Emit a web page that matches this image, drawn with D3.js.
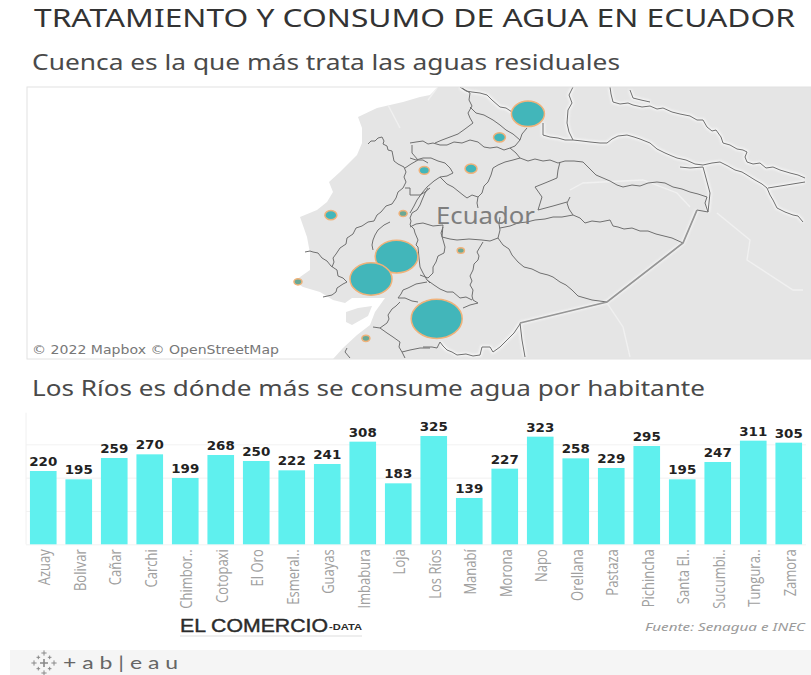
<!DOCTYPE html>
<html lang="es">
<head>
<meta charset="utf-8">
<title>Tratamiento y consumo de agua en Ecuador</title>
<script src="https://cdn.jsdelivr.net/npm/d3@7"></script>
<style>
  html, body { margin: 0; padding: 0; background: #fff; }
  svg { display: block; font-family: "Noto Sans", sans-serif; }
</style>
</head>
<body>
<svg id="chart" width="811" height="675"></svg>
<script>
// --- Data: consumption per inhabitant ---
const provinces = ["Azuay", "Bolivar", "Cañar", "Carchi", "Chimbor..", "Cotopaxi", "El Oro", "Esmeral..", "Guayas", "Imbabura", "Loja", "Los Ríos", "Manabí", "Morona", "Napo", "Orellana", "Pastaza", "Pichincha", "Santa El..", "Sucumbi..", "Tungura..", "Zamora"];
const consumption = [220, 195, 259, 270, 199, 268, 250, 222, 241, 308, 183, 325, 139, 227, 323, 258, 229, 295, 195, 247, 311, 305];
const gridTicks = [0, 100, 200, 300];

// --- Data: treated water by city (sizes, relative) ---
const cities = ["Tulcán", "Ibarra", "Quito", "Santo Domingo", "Manta", "Quevedo", "Babahoyo", "Guayaquil", "Salinas", "Riobamba", "Cuenca", "Machala"];
const cityLon = [-77.75, -78.14, -78.53, -79.17, -80.45, -79.46, -79.55, -79.9, -80.9, -78.67, -79.0, -79.97];
const cityLat = [0.76, 0.34, -0.22, -0.25, -1.05, -1.02, -1.79, -2.19, -2.24, -1.68, -2.90, -3.25];
const citySize = [42, 5.5, 5.5, 4, 5.5, 2.5, 70, 68, 2.5, 2, 100, 2.5];

const landOutline = [[438,87],[430,95],[420,97],[403,102],[377,108],[358,117],[362,128],[362,143],[357,155],[340,172],[329,182],[333,192],[327,202],[317,210],[300,217],[307,237],[310,253],[310,270],[300,277],[295,282],[303,287],[320,292],[333,300],[345,303],[352,298],[385,298],[375,312],[370,325],[357,335],[343,348],[333,359],[811,359],[811,87]];
const islandOutline = [[346,312],[358,308],[372,306],[368,316],[352,325],[346,322]];
const provinceLines = [
  [[368,144],[371,141],[375,141],[378,138],[382,137],[384,141],[383,144],[387,146],[388,150],[392,151],[393,156],[394,161],[398,164],[404,167],[406,172],[404,177],[406,182],[403,188],[398,192],[396,198],[392,204],[386,206],[381,212],[377,215],[374,221],[368,222],[362,226],[356,228],[353,234],[347,238],[346,244],[340,248],[336,254],[333,258],[334,262],[332,267]],
  [[305,252],[310,251],[313,252],[318,253],[322,258],[327,261],[331,266],[337,270],[338,276],[343,278],[347,282],[343,284],[337,288],[336,292],[332,295],[323,297]],
  [[405,188],[410,188],[410,195],[420,195],[425,192],[430,188]],
  [[390,222],[384,225],[378,230],[375,235],[373,240],[372,245],[373,250]],
  [[428,188],[425,193],[422,200],[420,205],[417,210],[412,213],[410,218],[411,221],[410,225],[414,229],[415,233],[418,240],[416,245],[418,247],[419,258],[420,267],[423,273],[427,280],[430,283]],
  [[410,143],[416,142],[423,141],[428,144],[433,143],[440,145],[447,145],[454,142],[462,143],[470,140],[478,142],[484,147],[490,148],[497,147],[504,150],[510,148],[515,146],[520,140],[522,134],[527,128]],
  [[412,145],[412,153],[418,160],[423,160],[428,163]],
  [[405,168],[411,164],[418,160]],
  [[470,107],[476,113],[484,115],[493,120],[500,125],[506,130],[513,134],[520,140]],
  [[435,143],[442,140],[450,137],[458,134],[465,129],[473,123],[470,118],[468,113],[472,106],[469,100],[470,93],[462,88]],
  [[510,148],[516,153],[520,158],[513,160],[505,162],[498,165],[493,168],[491,175],[488,182],[484,186],[482,193],[478,197],[472,195],[467,198],[463,195],[458,191],[453,187],[447,184],[440,177],[447,176],[453,173],[450,168],[445,163],[438,161],[431,158],[423,158],[416,160],[410,158]],
  [[440,177],[434,181],[427,187],[422,193],[417,200],[414,206],[410,213]],
  [[478,197],[477,203],[478,208]],
  [[410,227],[416,224],[423,223],[433,226],[443,225],[442,237],[450,239],[457,240],[469,239],[482,240],[490,241],[498,238],[500,230],[499,224],[500,217]],
  [[443,227],[441,233],[443,240],[445,247],[444,253],[438,256],[436,262],[433,267],[433,273],[428,278],[420,275]],
  [[483,242],[480,247],[477,252],[479,256],[478,260],[474,264],[473,270],[470,276],[472,281],[470,285],[473,290],[472,296],[473,300],[478,303],[470,305],[463,308]],
  [[427,280],[434,285],[440,289],[447,292],[453,292],[460,298],[466,297],[472,300]],
  [[427,282],[416,284],[408,288],[403,290],[401,294],[398,298],[405,298],[412,301],[418,302]],
  [[400,302],[396,306],[392,309],[388,315],[389,319],[387,323],[380,328],[373,327]],
  [[380,328],[387,333],[393,337],[400,342],[399,347],[402,352],[410,350],[420,348],[430,348]],
  [[402,352],[405,358]],
  [[347,348],[345,352],[350,358]],
  [[440,342],[437,348],[432,347],[423,347]],
  [[498,238],[503,245],[509,249],[512,255],[518,262],[524,267],[532,269],[540,273],[548,275],[553,277],[560,282],[566,285],[572,290],[578,296],[585,298],[592,300],[607,302]],
  [[500,228],[510,226],[518,223],[527,222],[535,220],[545,219],[553,217],[562,217],[573,215],[580,218],[585,223],[592,221],[600,222],[610,220],[613,226],[618,227],[624,229],[632,228],[640,231],[648,231],[656,234],[664,236],[672,238],[683,243]],
  [[573,215],[569,209],[567,203],[570,197]],
  [[567,202],[553,206],[538,210],[542,197],[535,187],[545,183],[557,178],[558,170],[560,162]],
  [[520,158],[528,161],[535,159],[543,161],[550,160],[558,163],[565,161],[574,161],[583,162],[590,169],[596,175],[603,178],[610,181],[617,185],[623,187],[632,185],[640,186],[648,183],[657,182],[665,183],[673,187],[682,189],[690,192],[698,194],[707,197],[705,203],[708,212],[697,210]]
];
const borderLines = [
  [[460,87],[466,91],[472,92],[480,93],[487,95],[492,100],[500,107],[506,108],[512,112]],
  [[543,123],[543,135],[550,137],[558,138],[565,140],[573,140],[582,141],[590,142],[600,143],[607,143],[612,139],[618,136],[627,135],[634,137],[640,139],[650,143],[657,149],[665,153],[672,156],[677,158],[686,160],[695,164],[703,165],[712,163],[720,162],[728,166],[735,170],[742,172],[747,175],[755,180],[762,184],[767,188],[770,195],[773,200],[777,208],[785,212],[793,215],[798,216],[803,222]],
  [[680,167],[690,168],[703,167],[706,178],[710,193],[708,212]],
  [[573,87],[569,95],[572,103],[568,110],[567,123],[569,132],[573,140]],
  [[610,87],[611,94],[613,102],[620,104],[628,103],[633,105],[642,107],[650,106],[657,109],[663,108],[672,112],[680,114],[690,116],[697,120],[703,120],[707,127],[712,131],[716,130],[721,137],[723,143],[730,145],[737,149],[743,150],[747,152],[745,157],[747,162],[753,164],[760,163],[766,168],[773,167],[780,170],[790,173],[798,175],[805,178]],
  [[630,90],[633,98],[641,100],[650,102]],
  [[768,188],[805,182]],
  [[440,342],[443,346],[447,350],[452,352],[457,355],[466,354],[473,356],[480,355],[482,347],[490,347],[493,352],[500,347],[507,340],[514,333],[520,324]],
  [[520,323],[522,340],[525,357]]
];
const thickBorder = [[520,323],[607,302],[683,243],[697,210]];
const riverLines = [
  [[570,190],[583,183],[643,180],[677,193],[690,207]],
  [[717,213],[750,240],[747,260],[793,290],[803,290]],
  [[607,303],[623,327],[630,357]],
  [[388,105],[400,128]],
  [[437,88],[428,100]]
];

const svg = d3.select("#chart");

// --- Stretched text helper: the reference image is wider than tall ---
function stretched(x, y, str, size, len, fill, extra = {}) {
  const t = svg.append("text")
    .attr("x", x).attr("y", y)
    .attr("font-size", size)
    .attr("fill", fill)
    .attr("textLength", len)
    .attr("lengthAdjust", "spacingAndGlyphs")
    .text(str);
  Object.entries(extra).forEach(([k, v]) => t.attr(k, v));
  return t;
}

// --- Titles ---
stretched(34, 27, "TRATAMIENTO Y CONSUMO DE AGUA EN ECUADOR", 25, 761, "#333");
stretched(32, 70, "Cuenca es la que más trata las aguas residuales", 21, 588, "#4a4a4a");
stretched(32, 396, "Los Ríos es dónde más se consume agua por habitante", 21, 673, "#4a4a4a");

// --- Map panel ---
const map = { left: 27, top: 87, right: 811, bottom: 359 };

const defs = svg.append("defs");
defs.append("clipPath").attr("id", "mapClip")
  .append("rect")
  .attr("x", map.left).attr("y", map.top)
  .attr("width", map.right - map.left).attr("height", map.bottom - map.top);
defs.append("filter").attr("id", "soft")
  .append("feGaussianBlur").attr("stdDeviation", 0.4);
defs.append("filter").attr("id", "glow")
  .append("feGaussianBlur").attr("stdDeviation", 1);

const lon = d3.scaleLinear().domain([-79.9, -78.9]).range([371, 444]);
const lat = d3.scaleLinear().domain([-2.19, -1.19]).range([279, 223]);

const mapG = svg.append("g").attr("clip-path", "url(#mapClip)");
const line = d3.line();
const closed = d3.line().curve(d3.curveLinearClosed);

const base = mapG.append("g").attr("filter", "url(#soft)");
base.append("path").attr("d", closed(landOutline)).attr("fill", "#e5e5e5");
base.append("path").attr("d", closed(islandOutline)).attr("fill", "#e5e5e5");

mapG.append("g").attr("filter", "url(#glow)")
  .selectAll("path")
  .data(borderLines.concat([thickBorder]))
  .join("path")
  .attr("d", line)
  .attr("fill", "none")
  .attr("stroke", "#f6f6f6")
  .attr("stroke-width", 3.5);

const lines = mapG.append("g").attr("filter", "url(#soft)");

lines.selectAll(".river")
  .data(riverLines)
  .join("path")
  .attr("class", "river")
  .attr("d", line)
  .attr("fill", "none")
  .attr("stroke", "#f1f1f1")
  .attr("stroke-width", 1.3);

lines.selectAll(".prov")
  .data(provinceLines.concat(borderLines))
  .join("path")
  .attr("class", "prov")
  .attr("d", line)
  .attr("fill", "none")
  .attr("stroke", "#6f6f6f")
  .attr("stroke-width", 1);

lines.append("path")
  .attr("d", line(thickBorder))
  .attr("fill", "none")
  .attr("stroke", "#969696")
  .attr("stroke-width", 1.8);

mapG.append("text")
  .attr("x", 436).attr("y", 224)
  .attr("font-size", 23)
  .attr("fill", "#7e7e7e")
  .attr("textLength", 99)
  .attr("lengthAdjust", "spacingAndGlyphs")
  .text("Ecuador");

// --- Bubbles (ellipses because the picture is stretched sideways) ---
const radius = d3.scaleSqrt().domain([0, 100]).range([0, 25.5]);
const squash = 0.77;

mapG.selectAll(".bubble")
  .data(cities.map((c, i) => ({ city: c, lon: cityLon[i], lat: cityLat[i], size: citySize[i] })))
  .join("ellipse")
  .attr("class", "bubble")
  .attr("cx", d => lon(d.lon))
  .attr("cy", d => lat(d.lat))
  .attr("rx", d => radius(d.size))
  .attr("ry", d => radius(d.size) * squash)
  .attr("fill", d => d.size < 3 ? "#6aa895" : "#43b6ba")
  .attr("stroke", "#f0b27a")
  .attr("stroke-width", 1.5)
  .attr("filter", "url(#soft)");

svg.append("rect")
  .attr("x", map.left).attr("y", map.top)
  .attr("width", map.right - map.left).attr("height", map.bottom - map.top)
  .attr("fill", "none")
  .attr("stroke", "#e2e2e2");

svg.append("text")
  .attr("x", 32).attr("y", 354)
  .attr("font-family", "DejaVu Sans")
  .attr("font-size", 11.5)
  .attr("fill", "#777")
  .attr("textLength", 247)
  .attr("lengthAdjust", "spacingAndGlyphs")
  .text("© 2022 Mapbox  © OpenStreetMap");

// --- Bar chart ---
const x = d3.scaleBand()
  .domain(provinces)
  .range([25.5, 806.5])
  .paddingInner(0.25)
  .paddingOuter(0.125);

const y = d3.scaleLinear()
  .domain([0, 325])
  .range([544.3, 436]);

svg.append("g")
  .attr("transform", "translate(26,0)")
  .call(d3.axisLeft(y).tickValues(gridTicks).tickSize(-780).tickSizeOuter(0).tickFormat(""))
  .call(g => g.select(".domain").remove())
  .selectAll("line")
  .attr("stroke", "#f2f2f2");

svg.append("line")
  .attr("x1", 26).attr("x2", 26)
  .attr("y1", y(0)).attr("y2", y(395))
  .attr("stroke", "#f0f0f0");

svg.selectAll(".bar")
  .data(consumption)
  .join("rect")
  .attr("class", "bar")
  .attr("x", (d, i) => x(provinces[i]))
  .attr("y", d => y(d))
  .attr("width", x.bandwidth())
  .attr("height", d => y(0) - y(d))
  .attr("fill", "#5ff0ee");

svg.selectAll(".value")
  .data(consumption)
  .join("text")
  .attr("class", "value")
  .attr("x", (d, i) => x(provinces[i]) + x.bandwidth() / 2)
  .attr("y", d => y(d) - 5)
  .attr("text-anchor", "middle")
  .attr("font-family", "DejaVu Sans")
  .attr("font-weight", "bold")
  .attr("font-size", 13)
  .attr("fill", "#222")
  .attr("textLength", 28)
  .attr("lengthAdjust", "spacingAndGlyphs")
  .text(d => d);

const xAxis = svg.append("g")
  .attr("transform", "translate(0,544.3)")
  .call(d3.axisBottom(x).tickSize(0));
xAxis.select(".domain").remove();
xAxis.selectAll("text")
  .attr("font-family", "Open Sans")
  .attr("font-size", 13)
  .attr("fill", "#a0a0a0")
  .attr("text-anchor", "end")
  .attr("dy", "0.35em")
  .attr("x", -5)
  .attr("y", 0)
  .attr("transform", "translate(1,0) rotate(-90) scale(1,1.3)");

// --- Footer ---
stretched(180, 632, "EL COMERCIO", 18, 148, "#2b2b2b", { "font-family": "Liberation Sans", "stroke": "#2b2b2b", "stroke-width": 0.4 });
stretched(329, 630, "-DATA", 8.5, 33, "#2b2b2b", { "font-family": "Liberation Sans", "font-weight": "bold" });
svg.append("line").attr("x1", 180).attr("x2", 362).attr("y1", 636).attr("y2", 636).attr("stroke", "#ddd");
stretched(645, 631, "Fuente: Senagua e INEC", 11.5, 160, "#9a9a9a", { "font-style": "italic" });

svg.append("rect").attr("x", 10).attr("y", 650).attr("width", 801).attr("height", 25).attr("fill", "#f5f5f5");

const logo = svg.append("g").attr("transform", "translate(44,663)").attr("stroke", "#888").attr("fill", "none");
d3.range(8).forEach(i => {
  const a = i * Math.PI / 4, r = i % 2 ? 8 : 10, s = i % 2 ? 1.8 : 2.6;
  const cx = r * Math.cos(a), cy = r * Math.sin(a);
  logo.append("path").attr("d", `M${cx - s},${cy}H${cx + s}M${cx},${cy - s}V${cy + s}`).attr("stroke-width", 1);
});
logo.append("path").attr("d", "M-4,0H4M0,-4V4").attr("stroke-width", 1.6);

stretched(63, 669, "+ a b | e a u", 18, 115, "#666", { "font-family": "Lato" });
</script>
</body>
</html>
